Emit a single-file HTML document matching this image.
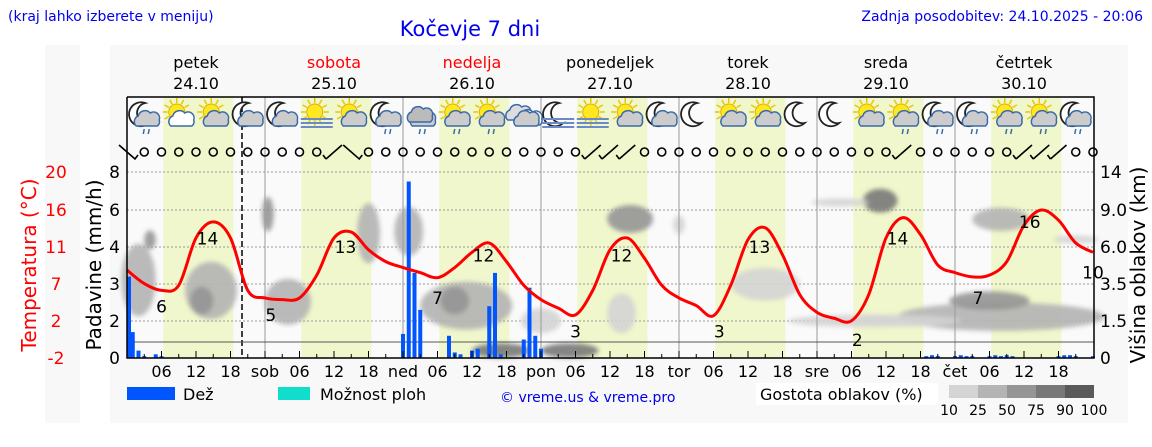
<!DOCTYPE html>
<html><head><meta charset="utf-8">
<style>
body{margin:0;background:#fff;width:1152px;height:443px;overflow:hidden;font-family:"DejaVu Sans","Liberation Sans",sans-serif}
svg text{font-family:"DejaVu Sans","Liberation Sans",sans-serif}
</style></head><body>
<svg id="chart" width="1152" height="443" xmlns="http://www.w3.org/2000/svg">
<rect x="45" y="45" width="35" height="378" fill="#f8f8f8"/>
<rect x="110" y="45" width="1018" height="378" fill="#f8f8f8"/>
<text x="8" y="21" font-size="14" fill="#0000ee">(kraj lahko izberete v meniju)</text>
<text x="470" y="36" font-size="21" fill="#0000ee" text-anchor="middle">Kočevje 7 dni</text>
<text x="1143" y="21" font-size="14" fill="#0000ee" text-anchor="end">Zadnja posodobitev: 24.10.2025 - 20:06</text>
<text transform="translate(36,265) rotate(-90)" font-size="20" fill="#ff0000" text-anchor="middle">Temperatura (°C)</text>
<text transform="translate(101,265) rotate(-90)" font-size="20" fill="#000" text-anchor="middle">Padavine (mm/h)</text>
<text transform="translate(1145,265) rotate(-90)" font-size="20" fill="#000" text-anchor="middle">Višina oblakov (km)</text>
<defs><filter id="blur" x="-50%" y="-50%" width="200%" height="200%"><feGaussianBlur stdDeviation="2.5"/></filter></defs>
<g id="g"></g>
<rect x="127" y="387" width="48" height="13" fill="#0055ff"/>
<text x="183" y="400" font-size="16">Dež</text>
<rect x="278" y="387" width="32" height="13" fill="#11ddcc"/>
<text x="320" y="400" font-size="16">Možnost ploh</text>
<text x="500" y="402" font-size="14" fill="#0000ee">© vreme.us &amp; vreme.pro</text>
<rect x="756" y="383" width="182" height="22" fill="#fff"/>
<text x="760" y="400" font-size="16">Gostota oblakov (%)</text>
</svg>
<script>
const dayNames=["petek","sobota","nedelja","ponedeljek","torek","sreda","četrtek"];
const dayDates=["24.10","25.10","26.10","27.10","28.10","29.10","30.10"];
const dayAbbr=["","sob","ned","pon","tor","sre","čet"];
const tempHours=[0,3,6,9,12,15,18,21,24,27,30,33,36,39,42,45,48,51,54,57,60,63,66,69,72,75,78,81,84,87,90,93,96,99,102,105,108,111,114,117,120,123,126,129,132,135,138,141,144,147,150,153,156,159,162,165,168];
const temps=[8.4,6.8,6.0,6.6,12.2,14.1,12.2,6.0,5.1,4.9,5.1,7.8,12.2,12.9,10.8,9.4,8.7,8.1,7.5,8.7,10.5,11.6,9.4,6.6,4.9,3.9,3.1,6.0,10.8,12.2,9.8,6.6,5.1,4.2,3.0,6.6,12.0,13.4,10.2,5.5,3.4,2.7,2.4,5.5,12.2,14.6,12.6,9.0,8.1,7.6,7.8,9.4,13.7,15.5,14.3,11.6,10.5];
const extremeHours=[14,6,25,38,54,62,78,86,103,110,127,134,148,157,168];
const extremeTemps=[14,6,5,13,7,12,3,12,3,13,2,14,7,16,10];
const rainHours=[0,1,2,3,5,6,48,49,50,51,56,57,58,60,61,63,64,65,69,70,71,72,139,140,141,144,145,146,147,150,151,152,153,154,162,163,164,165,168];
const rainValues=[3.2,1.4,0.4,0.1,0.2,0.1,1.3,7.5,3.3,2.3,1.2,0.3,0.2,0.4,0.5,2.4,3.3,0.2,1.0,2.9,1.2,0.5,0.1,0.15,0.1,0.1,0.15,0.1,0.1,0.1,0.15,0.1,0.15,0.1,0.1,0.15,0.15,0.1,0.1];
const cloudHours=[2,4,14.6,13,24.5,28,42,49,59,57,72,65,77,87.5,86,96,111,131,124,131,152,150,152,165,130];
const cloudKm=[4,6.6,3.3,2.6,9,2.6,7.4,7.4,2.4,2.6,1.6,0.3,0.3,8.4,2,7.8,3.6,10.3,10,1.6,1.8,2.6,8.3,6.6,1.55];
const cloudSpanH=[3,1,4.5,2,1,4,2,2.5,8,2.5,3.5,5,5,4,2.5,1,6,3,5,3,18,7,5,4,15];
const cloudDepthKm=[4.5,1.5,3.4,1.5,3.5,2.5,5,4,2.5,1.5,1.2,0.6,0.6,2.5,2,1.5,2,3,0.8,0.4,1.4,1,2,0.6,0.6];
const cloudDensity=[25,50,25,50,60,40,25,25,25,50,15,75,85,60,15,15,15,75,10,20,25,50,40,10,10];
const iconTypes=["mcr","sc","sc","mc","mc","sf","sc","mcr","cr","scr","scr","cc","mf","sf","sc","mc","m","sc","sc","m","m","sc","scr","mcr","mcr","scr","scr","mcr"];
const windHours=[0,36,39,81,84,87,135,156,159,162];
const windDir=[-1,1,-1,1,1,1,1,1,1,1];
const precipTicks=[0,2,3,4,6,8];
const cloudTicks=["0","1.5","3.5","6.0","9.0","14"];
const tempTicks=[-2,2,7,11,16,20];
const densityLevels=[10,25,50,75,90,100];
const densityColors=["#d4d4d4","#b4b4b4","#959595","#787878","#5a5a5a"];

const X0=127,PW=5.75,YB=358,YT=97,XR=1094;
const gridY=[358,321,284,247,210,172];
function xH(h){return X0+h*PW;}
function yT(t){return 358-(t+2)*(186/22);}
function pw(v,vals){for(let i=0;i<vals.length-1;i++){if(v<=vals[i+1])return gridY[i]+(v-vals[i])/(vals[i+1]-vals[i])*(gridY[i+1]-gridY[i]);}return gridY[5];}
function yP(v){return pw(v,[0,2,3,4,6,8]);}
function yC(k){return pw(k,[0,1.5,3.5,6,9,14]);}
function dCol(d){for(let i=0;i<densityLevels.length-1;i++)if(d<densityLevels[i+1])return densityColors[i];return densityColors[4];}
const NS="http://www.w3.org/2000/svg",G=document.getElementById('g');
function mk(tag,at,parent){const e=document.createElementNS(NS,tag);for(const k in at)e.setAttribute(k,at[k]);(parent||G).appendChild(e);return e;}

let e=mk('rect',{x:X0,y:YT,width:XR-X0,height:YB-YT,fill:'#fafafa'});


for(let d=0;d<7;d++){
 e=mk('rect',{x:xH(d*24+6.3),y:YT,width:12.2*PW,height:YB-YT,fill:'#f1f7cc'});
 
 
}
for(let i=1;i<6;i++){
 e=mk('line',{x1:X0,x2:XR,y1:gridY[i],y2:gridY[i],stroke:'#999','stroke-dasharray':'2,2','stroke-width':1});
 
 
}
const cg=mk('g',{filter:'url(#blur)'});
for(let i=0;i<cloudHours.length;i++){
 const top=yC(cloudKm[i]+cloudDepthKm[i]/2),bot=yC(Math.max(0,cloudKm[i]-cloudDepthKm[i]/2));
 const ry=Math.max(4,(bot-top)/2);
 e=mk('ellipse',{cx:xH(cloudHours[i]),cy:(top+bot)/2,rx:cloudSpanH[i]*PW,ry:ry,fill:dCol(cloudDensity[i]),opacity:0.9},cg);
 
 
}
for(let d=1;d<7;d++){
 e=mk('line',{x1:xH(d*24),x2:xH(d*24),y1:YT,y2:YB,stroke:'#999','stroke-width':1});
 
 
}
e=mk('line',{x1:xH(20),x2:xH(20),y1:YT,y2:YB,stroke:'#000','stroke-dasharray':'6,3','stroke-width':1.5});


e=mk('line',{x1:X0,x2:XR,y1:342,y2:342,stroke:'#555','stroke-width':1});


for(let i=0;i<rainHours.length;i++){
 const y=yP(rainValues[i]);
 e=mk('rect',{x:Math.max(X0,xH(rainHours[i])-2),y:y,width:4,height:YB-y,fill:'#0055ff'});
 
 
}
function smooth(pts){let d='M'+pts[0][0]+','+pts[0][1];for(let i=0;i<pts.length-1;i++){const p0=pts[Math.max(0,i-1)],p1=pts[i],p2=pts[i+1],p3=pts[Math.min(pts.length-1,i+2)];d+=' C'+(p1[0]+(p2[0]-p0[0])/6)+','+(p1[1]+(p2[1]-p0[1])/6)+' '+(p2[0]-(p3[0]-p1[0])/6)+','+(p2[1]-(p3[1]-p1[1])/6)+' '+p2[0]+','+p2[1];}return d;}
e=mk('path',{d:smooth(tempHours.map((h,i)=>[xH(h),yT(temps[i])])),fill:'none',stroke:'#ff0000','stroke-width':3});


for(let i=0;i<extremeHours.length;i++){
 e=mk('text',{x:xH(extremeHours[i]),y:yT(extremeTemps[i])+22,'font-size':17,'text-anchor':'middle',fill:'#000'});
 e.textContent=extremeTemps[i];
 
 
}
e=mk('path',{d:`M${X0},${YT} V${YB} H${XR} V${YT} H${X0}`,fill:'none',stroke:'#000','stroke-width':1.5});


for(let h=3;h<168;h+=3){
 e=mk('line',{x1:xH(h),x2:xH(h),y1:YB,y2:YB-(h%6?4:7),stroke:'#000'});
 
 
}
for(let d=0;d<7;d++){
 ["06","12","18"].forEach((lb,j)=>{
  e=mk('text',{x:xH(d*24+6*(j+1)),y:377,'font-size':16,'text-anchor':'middle'});e.textContent=lb;
  
  
 });
 if(dayAbbr[d]){e=mk('text',{x:xH(d*24),y:377,'font-size':16,'text-anchor':'middle'});e.textContent=dayAbbr[d];
  
  }
 e=mk('text',{x:xH(d*24+12),y:68,'font-size':16,'text-anchor':'middle',fill:d==1||d==2?'#ff0000':'#000'});e.textContent=dayNames[d];
 
 
 e=mk('text',{x:xH(d*24+12),y:89,'font-size':16,'text-anchor':'middle'});e.textContent=dayDates[d];
 
 
}
for(let i=0;i<6;i++){
 e=mk('text',{x:120,y:gridY[i]+6,'font-size':17,'text-anchor':'end'});e.textContent=precipTicks[i];
 
 
 e=mk('text',{x:1100,y:gridY[i]+6,'font-size':17});e.textContent=cloudTicks[i];
 
 
 e=mk('text',{x:56,y:gridY[i]+6,'font-size':17,'text-anchor':'middle',fill:'#ff0000'});e.textContent=tempTicks[i];
 
 
}
for(let h=0;h<=168;h+=3){
 const wi=windHours.indexOf(h);const x=xH(h),y=152;
 if(wi<0){e=mk('circle',{cx:x,cy:y,r:4,fill:'none',stroke:'#000','stroke-width':1.6});}
 else{const s=windDir[wi];e=mk('path',{d:s>0?`M${x-8},${y+7} L${x+8},${y-7} M${x-8},${y+7} l-3,-4`:`M${x-8},${y-7} L${x+8},${y+7} l3,-4`,stroke:'#000','stroke-width':1.6,fill:'none'});}
 
 
}
function sun(g,x,y){for(let a=0;a<12;a++){const r=a*Math.PI/6;mk('line',{x1:x+Math.cos(r)*9,y1:y+Math.sin(r)*9,x2:x+Math.cos(r)*14,y2:y+Math.sin(r)*14,stroke:'#e8c800','stroke-width':1.5},g);}mk('circle',{cx:x,cy:y,r:8,fill:'#ffe820',stroke:'#e0b000'},g);}
function moon(g,x,y){mk('path',{d:`M${x+4},${y-12} A12,12 0 1 0 ${x+8},${y+8} A10,10 0 0 1 ${x+4},${y-12}Z`,fill:'#fff',stroke:'#222','stroke-width':1.8},g);}
function cloud(g,x,y,fill){mk('path',{d:`M${x-11},${y+7} a6,6 0 0 1 2,-10 a7,7 0 0 1 12,-3 a6,6 0 0 1 9,7 a5,5 0 0 1 -2,6 Z`,fill:fill,stroke:'#3a6aa8','stroke-width':1.5},g);}
function rain(g,x,y){mk('path',{d:`M${x-2},${y} l-1,5 M${x+3},${y} l-1,5`,stroke:'#3a6aa8','stroke-width':1.5},g);}
function fog(g,x,y){for(let i=0;i<3;i++)mk('line',{x1:x-16,x2:x+16,y1:y+i*4,y2:y+i*4,stroke:'#6a8ac8','stroke-width':2},g);}
iconTypes.forEach((t,i)=>{
 const x=xH(3+6*i),y=115;const g=mk('g',{});
 
 
 if(t[0]=='m')moon(g,x-3,y);
 if(t[0]=='s')sun(g,x-2,y-3);
 if(t=='cc'){cloud(g,x-5,y-2,'#ddd');cloud(g,x+6,y+3,'#fff');}
 if(t.length>1&&t[1]=='c'||t=='cr')cloud(g,x+3,y+4,t[0]=='s'&&t.length==2&&i%3==1?'#fff':'#ccc');
 if(t=='cr')cloud(g,x,y,'#bbb');
 if(t[1]=='f')fog(g,x,y+4);
 if(t.endsWith('r'))rain(g,x+2,y+14);
});
for(let i=0;i<5;i++){
 e=mk('rect',{x:949+i*29,y:385,width:29,height:13,fill:densityColors[i]});
 
 
}
for(let i=0;i<6;i++){
 e=mk('text',{x:949+i*29,y:415,'font-size':14,'text-anchor':'middle'});e.textContent=densityLevels[i];
 
 
}
</script>
</body></html>
